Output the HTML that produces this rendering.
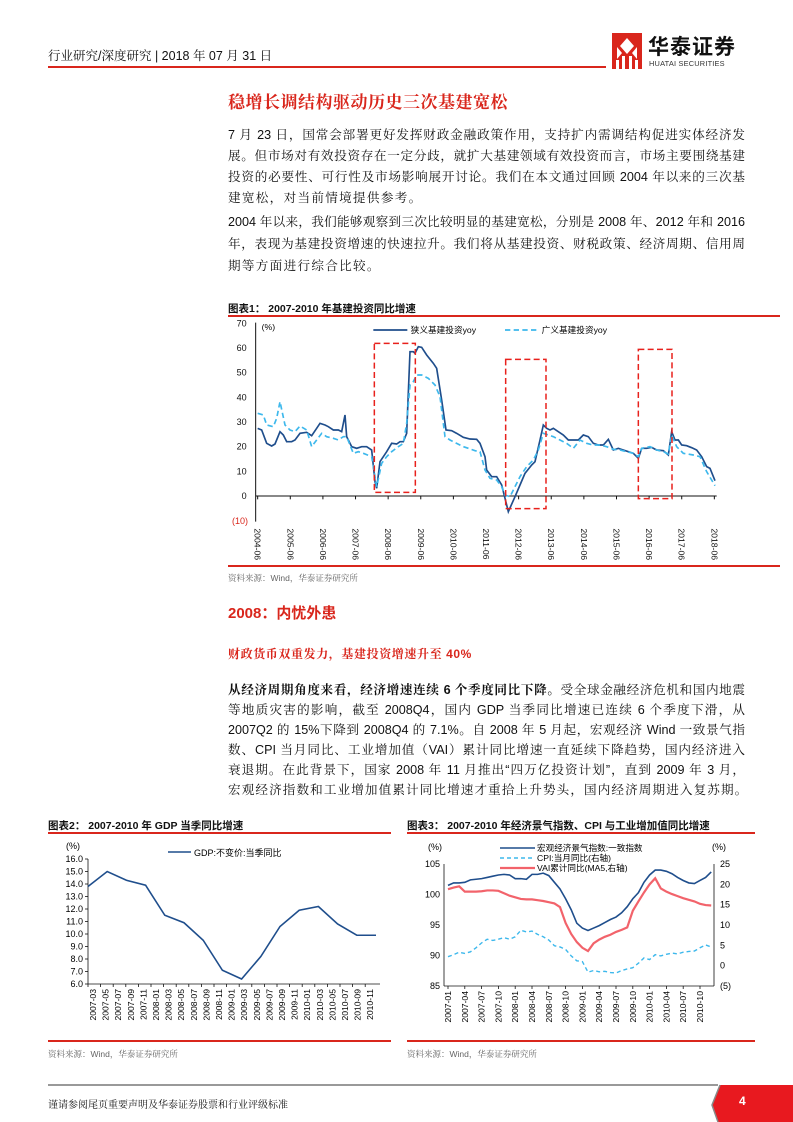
<!DOCTYPE html>
<html><head><meta charset="utf-8">
<style>
*{margin:0;padding:0;box-sizing:border-box}
body{width:793px;height:1122px;position:relative;background:#fff;font-family:"Liberation Sans","Noto Serif CJK SC","Noto Sans CJK SC",sans-serif;color:#111;overflow:hidden}
.a{position:absolute;white-space:nowrap}
.ln{position:absolute;left:228px;width:517px;font-size:12.6px;line-height:16px;text-align:justify;text-align-last:justify;white-space:nowrap;font-family:"Liberation Sans","Noto Serif CJK SC",serif}
.ln.l{text-align-last:left}
.ct{position:absolute;font-size:10.5px;font-weight:bold;font-family:"Liberation Sans","Noto Sans CJK SC",sans-serif}
.rl{position:absolute;height:1.5px;background:#d9261c}
.src{position:absolute;font-size:8.5px;color:#666;font-family:"Liberation Sans","Noto Serif CJK SC",serif}
svg text{font-family:"Liberation Sans","Noto Sans CJK SC",sans-serif}
</style></head><body>
<div class="a" style="left:48px;top:46px;font-size:12.5px;font-family:'Liberation Sans','Noto Serif CJK SC',serif">行业研究/深度研究 | 2018 年 07 月 31 日</div>
<div class="a" style="left:48px;top:66px;width:558px;height:2px;background:#d9261c"></div>
<svg class="a" style="left:612px;top:33px" width="30" height="36" viewBox="0 0 30 36">
<rect x="0" y="0" width="30" height="36" fill="#d9261c"/>
<path d="M15 5 L22 13 L15 21 L8 13Z M5 14 L10 20 L5 26Z M25 14 L20 20 L25 26Z" fill="#fff"/>
<rect x="4" y="27" width="3" height="9" fill="#fff"/><rect x="10" y="23" width="3" height="13" fill="#fff"/><rect x="17" y="23" width="3" height="13" fill="#fff"/><rect x="23" y="27" width="3" height="9" fill="#fff"/>
</svg>
<div class="a" style="left:648px;top:33px;font-size:21px;font-weight:bold;font-family:'Noto Sans CJK SC',sans-serif;letter-spacing:1px;line-height:26px">华泰证券</div>
<div class="a" style="left:649px;top:59px;font-size:7.4px;color:#333;letter-spacing:0.2px">HUATAI SECURITIES</div>

<div class="a" style="left:228px;top:88px;width:300px;font-size:17px;font-weight:bold;color:#d9261c;font-family:'Noto Serif CJK SC',serif;letter-spacing:0.5px">稳增长调结构驱动历史三次基建宽松</div>

<div class="ln" style="top:127px">7 月 23 日，国常会部署更好发挥财政金融政策作用，支持扩内需调结构促进实体经济发</div>
<div class="ln" style="top:148px">展。但市场对有效投资存在一定分歧，就扩大基建领域有效投资而言，市场主要围绕基建</div>
<div class="ln" style="top:169px">投资的必要性、可行性及市场影响展开讨论。我们在本文通过回顾 2004 年以来的三次基</div>
<div class="ln l" style="top:190px;letter-spacing:1.3px">建宽松，对当前情境提供参考。</div>
<div class="ln" style="top:214px">2004 年以来，我们能够观察到三次比较明显的基建宽松，分别是 2008 年、2012 年和 2016</div>
<div class="ln" style="top:236px">年，表现为基建投资增速的快速拉升。我们将从基建投资、财税政策、经济周期、信用周</div>
<div class="ln l" style="top:258px;letter-spacing:1.3px">期等方面进行综合比较。</div>

<div class="ct" style="left:228px;top:301px">图表1：&nbsp;2007-2010 年基建投资同比增速</div>
<div class="rl" style="left:228px;top:315px;width:552px"></div>
<svg class="a" style="left:220px;top:300px" width="520" height="280" viewBox="0 0 1560 840">
<g font-size="27" fill="#111" text-anchor="end">
<text x="80" y="80">70</text><text x="80" y="153">60</text><text x="80" y="227">50</text><text x="80" y="301">40</text><text x="80" y="375">30</text><text x="80" y="449">20</text><text x="80" y="523">10</text><text x="80" y="597">0</text><text x="84" y="672" fill="#d9261c">(10)</text>
</g>
<text x="125" y="90" font-size="26">(%)</text>
<line x1="107" y1="68" x2="107" y2="665" stroke="#111" stroke-width="3"/>
<line x1="107" y1="588" x2="1490" y2="588" stroke="#111" stroke-width="3"/>
<g id="tk" stroke="#111" stroke-width="3"></g>
<g id="xl" font-size="26" fill="#111"></g>
<polyline id="p1" fill="none" stroke="#1f4e8c" stroke-width="5"/>
<polyline id="p2" fill="none" stroke="#3db8ec" stroke-width="5" stroke-dasharray="16,10"/>
<g fill="none" stroke="#e8211c" stroke-width="4.5" stroke-dasharray="18,10">
<rect x="463" y="130" width="123" height="447"/><rect x="857" y="178" width="121" height="448"/><rect x="1255" y="148" width="101" height="448"/>
</g>
<line x1="460" y1="90" x2="562" y2="90" stroke="#1f4e8c" stroke-width="5"/>
<text x="572" y="99" font-size="26">狭义基建投资yoy</text>
<line x1="855" y1="90" x2="955" y2="90" stroke="#3db8ec" stroke-width="5" stroke-dasharray="16,10"/>
<text x="965" y="99" font-size="26">广义基建投资yoy</text>
</svg>
<div class="rl" style="left:228px;top:565px;width:552px"></div>
<div class="src" style="left:228px;top:572px">资料来源：Wind，华泰证券研究所</div>

<div class="a" style="left:228px;top:602px;font-size:15px;font-weight:bold;color:#d9261c;font-family:'Liberation Sans','Noto Sans CJK SC',sans-serif">2008：内忧外患</div>
<div class="a" style="left:228px;top:645px;font-size:12px;font-weight:bold;color:#d9261c;font-family:'Liberation Sans','Noto Serif CJK SC',serif;letter-spacing:0.6px">财政货币双重发力，基建投资增速升至 40%</div>

<div class="ln" style="top:682px"><b>从经济周期角度来看，经济增速连续 6 个季度同比下降。</b>受全球金融经济危机和国内地震</div>
<div class="ln" style="top:702px">等地质灾害的影响，截至 2008Q4，国内 GDP 当季同比增速已连续 6 个季度下滑，从</div>
<div class="ln" style="top:722px">2007Q2 的 15%下降到 2008Q4 的 7.1%。自 2008 年 5 月起，宏观经济 Wind 一致景气指</div>
<div class="ln" style="top:742px">数、CPI 当月同比、工业增加值（VAI）累计同比增速一直延续下降趋势，国内经济进入</div>
<div class="ln" style="top:762px">衰退期。在此背景下，国家 2008 年 11 月推出“四万亿投资计划”，直到 2009 年 3 月，</div>
<div class="ln l" style="top:782px;letter-spacing:1.1px">宏观经济指数和工业增加值累计同比增速才重拾上升势头，国内经济周期进入复苏期。</div>

<div class="ct" style="left:48px;top:818px">图表2：&nbsp;2007-2010 年 GDP 当季同比增速</div>
<div class="rl" style="left:48px;top:832px;width:343px"></div>
<div class="ct" style="left:407px;top:818px">图表3：&nbsp;2007-2010 年经济景气指数、CPI 与工业增加值同比增速</div>
<div class="rl" style="left:407px;top:832px;width:348px"></div>
<svg class="a" style="left:0;top:0" width="793" height="1122">
<g id="c2"></g><g id="c3"></g>
</svg>
<div class="rl" style="left:48px;top:1040px;width:343px"></div>
<div class="rl" style="left:407px;top:1040px;width:348px"></div>
<div class="src" style="left:48px;top:1048px">资料来源：Wind，华泰证券研究所</div>
<div class="src" style="left:407px;top:1048px">资料来源：Wind，华泰证券研究所</div>

<div class="a" style="left:48px;top:1084px;width:670px;height:2px;background:#999"></div>
<div class="a" style="left:48px;top:1096px;font-size:10px;font-family:'Liberation Sans','Noto Serif CJK SC',serif">谨请参阅尾页重要声明及华泰证券股票和行业评级标准</div>
<svg class="a" style="left:700px;top:1083px" width="93" height="39"><path d="M20 2 L93 2 L93 39 L18 39 L12 22Z" fill="#e8191f"/><path d="M20 2 L12 22 L18 39" fill="none" stroke="#888" stroke-width="1.5"/></svg>
<div class="a" style="left:739px;top:1094px;color:#fff;font-size:12px;font-weight:bold">4</div>

<script>
var NS="http://www.w3.org/2000/svg";
function el(p,t,a,txt){var e=document.createElementNS(NS,t);for(var k in a)e.setAttribute(k,a[k]);if(txt!=null)e.textContent=txt;p.appendChild(e);return e;}
function pts(a){var s=[];for(var i=0;i<a.length;i+=2)s.push(a[i]+","+a[i+1]);return s.join(" ");}
document.getElementById("p1").setAttribute("points",pts([113,385,125,390,140,430,155,438,165,432,180,395,190,405,200,425,215,425,225,420,240,400,260,397,275,407,290,385,300,370,315,375,325,380,340,390,355,390,365,395,375,345,380,410,395,440,410,445,425,440,440,440,455,450,465,545,470,565,480,485,490,470,500,455,515,430,530,432,540,425,550,425,560,400,570,155,580,155,585,160,595,140,605,142,620,165,640,190,650,205,665,300,678,390,695,392,710,400,730,412,750,417,770,418,780,430,795,470,800,510,815,530,830,530,845,555,855,595,865,635,885,590,900,555,915,520,935,495,945,485,960,420,970,375,980,385,990,390,1000,385,1015,395,1030,405,1045,420,1060,420,1075,420,1090,405,1105,410,1120,430,1135,435,1150,435,1165,418,1180,450,1195,445,1210,450,1225,455,1240,460,1255,475,1265,445,1280,445,1295,442,1310,450,1330,452,1345,465,1355,395,1365,420,1375,420,1385,435,1400,437,1415,443,1430,450,1445,470,1460,500,1470,505,1485,542]));
document.getElementById("p2").setAttribute("points",pts([113,340,130,345,140,375,160,380,170,355,180,305,195,375,210,390,225,395,240,378,260,390,275,440,290,420,305,400,320,410,340,415,355,420,370,410,380,410,400,460,415,455,430,460,455,470,465,530,470,560,485,490,500,470,515,455,535,440,550,430,560,370,570,255,580,245,590,225,605,225,625,235,645,255,660,290,675,410,690,420,710,430,730,440,745,445,765,452,780,455,795,510,810,535,830,540,845,560,855,585,870,590,885,560,900,530,920,500,940,480,955,450,970,400,985,405,1000,410,1020,420,1040,430,1060,445,1080,420,1100,430,1120,435,1140,435,1160,440,1180,448,1200,450,1220,455,1240,460,1255,470,1265,445,1290,440,1310,450,1330,455,1345,462,1355,405,1370,440,1390,460,1420,465,1440,470,1460,515,1485,557]));
var tk=document.getElementById("tk"),xl=document.getElementById("xl");
for(var i=0;i<=14;i++){var x=113+i*97.86;el(tk,"line",{x1:x,y1:588,x2:x,y2:598});var t=el(xl,"text",{transform:"translate("+(x-9)+",685) rotate(90)"},(2004+i)+"-06");}
// chart 2
var c2=document.getElementById("c2");
var X0=88,Y=function(v){return 984-(v-6)*12.5;};
for(var v=6;v<=16;v++){el(c2,"text",{x:83,y:Y(v)+3,"font-size":9,"text-anchor":"end"},v.toFixed(1));el(c2,"line",{x1:85,y1:Y(v),x2:88,y2:Y(v),stroke:"#111","stroke-width":0.8});}
el(c2,"text",{x:66,y:849,"font-size":9},"(%)");
el(c2,"line",{x1:88,y1:859,x2:88,y2:984,stroke:"#111","stroke-width":0.8});
el(c2,"line",{x1:88,y1:984,x2:380,y2:984,stroke:"#111","stroke-width":0.8});
var g=[13.8,15.0,14.3,13.9,11.5,10.9,9.5,7.1,6.4,8.2,10.6,11.9,12.2,10.8,9.9,9.9],s=[];
for(var i=0;i<g.length;i++)s.push((X0+i*19.2)+","+Y(g[i]));
el(c2,"polyline",{points:s.join(" "),fill:"none",stroke:"#1f4e8c","stroke-width":1.6});
var lab2=["2007-03","2007-05","2007-07","2007-09","2007-11","2008-01","2008-03","2008-05","2008-07","2008-09","2008-11","2009-01","2009-03","2009-05","2009-07","2009-09","2009-11","2010-01","2010-03","2010-05","2010-07","2010-09","2010-11"];
for(var i=0;i<lab2.length;i++){var x=93+i*12.6;el(c2,"line",{x1:x-5,y1:984,x2:x-5,y2:987,stroke:"#111","stroke-width":0.8});el(c2,"text",{transform:"translate("+(x+3)+",989) rotate(-90)","font-size":8.6,"text-anchor":"end"},lab2[i]);}
el(c2,"line",{x1:168,y1:852,x2:191,y2:852,stroke:"#1f4e8c","stroke-width":1.6});
el(c2,"text",{x:194,y:856,"font-size":9},"GDP:不变价:当季同比");
// chart 3
var c3=document.getElementById("c3");
var L=function(v){return 986-(v-85)*6.1;},R=function(v){return 986-(v+5)*4.067;};
[105,100,95,90,85].forEach(function(v){el(c3,"text",{x:440,y:L(v)+3,"font-size":9,"text-anchor":"end"},v);});
[[25,"25"],[20,"20"],[15,"15"],[10,"10"],[5,"5"],[0,"0"],[-5,"(5)"]].forEach(function(a){el(c3,"text",{x:720,y:R(a[0])+3,"font-size":9},a[1]);});
el(c3,"text",{x:428,y:850,"font-size":9},"(%)");el(c3,"text",{x:712,y:850,"font-size":9},"(%)");
el(c3,"line",{x1:444,y1:864,x2:444,y2:986,stroke:"#111","stroke-width":0.8});
el(c3,"line",{x1:714,y1:864,x2:714,y2:986,stroke:"#111","stroke-width":0.8});
el(c3,"line",{x1:444,y1:986,x2:714,y2:986,stroke:"#111","stroke-width":0.8});
var lead=[101.5,101.9,101.9,102,102.4,102.5,102.6,102.8,103,103.2,103.3,103.2,102.6,102.6,102.5,103.3,103.3,103.5,103.1,102,100.9,99.3,97.5,95.3,94.5,94.1,94.5,94.9,95.4,95.9,96.3,97,98,99.3,100.3,102,103.2,104,104,103.8,103.4,102.8,102.3,101.9,101.8,102.3,102.8,103.7];
var cpi=[2.2,2.7,3.3,3.0,3.4,4.4,5.6,6.5,6.2,6.5,6.9,6.5,7.1,8.7,8.3,8.5,7.7,7.1,6.3,4.9,4.6,4.0,2.4,1.2,1.0,-1.6,-1.2,-1.5,-1.4,-1.7,-1.8,-1.2,-0.8,-0.5,0.6,1.9,1.5,2.7,2.4,2.8,3.1,2.9,3.3,3.5,3.6,4.4,5.1,4.6];
var vai=[18.8,19.2,19.5,18.2,18.2,18.2,18.3,18.5,18.5,18.4,17.8,17.2,16.8,16.4,16.3,16.3,16.1,15.9,15.6,15.3,14.4,10.5,7.8,5.8,4.4,3.6,5.5,6.4,7.1,7.6,8.3,8.8,9.4,13.5,15.8,18,20,21.5,19,18.2,17.6,17.1,16.6,16.2,15.8,15.2,14.9,14.8];
function line(arr,f,attrs){var s=[];for(var i=0;i<arr.length;i++)s.push((448+i*5.6)+","+f(arr[i]));attrs.points=s.join(" ");attrs.fill="none";el(c3,"polyline",attrs);}
line(vai,R,{stroke:"#f2636b","stroke-width":2.2});
line(cpi,R,{stroke:"#3db8ec","stroke-width":1.4,"stroke-dasharray":"4,3"});
line(lead,L,{stroke:"#1f4e8c","stroke-width":1.6});
for(var i=0;i<16;i++){var x=448+i*16.8;el(c3,"line",{x1:x,y1:986,x2:x,y2:989,stroke:"#111","stroke-width":0.8});var y=2007+Math.floor(i/4),m=["01","04","07","10"][i%4];el(c3,"text",{transform:"translate("+(x+3)+",991) rotate(-90)","font-size":8.6,"text-anchor":"end"},y+"-"+m);}
el(c3,"line",{x1:500,y1:848,x2:535,y2:848,stroke:"#1f4e8c","stroke-width":1.6});
el(c3,"text",{x:537,y:851,"font-size":8.6},"宏观经济景气指数:一致指数");
el(c3,"line",{x1:500,y1:858,x2:535,y2:858,stroke:"#3db8ec","stroke-width":1.4,"stroke-dasharray":"4,3"});
el(c3,"text",{x:537,y:861,"font-size":8.6},"CPI:当月同比(右轴)");
el(c3,"line",{x1:500,y1:868,x2:535,y2:868,stroke:"#f2636b","stroke-width":2.2});
el(c3,"text",{x:537,y:871,"font-size":8.6},"VAI累计同比(MA5,右轴)");
</script>
</body></html>
